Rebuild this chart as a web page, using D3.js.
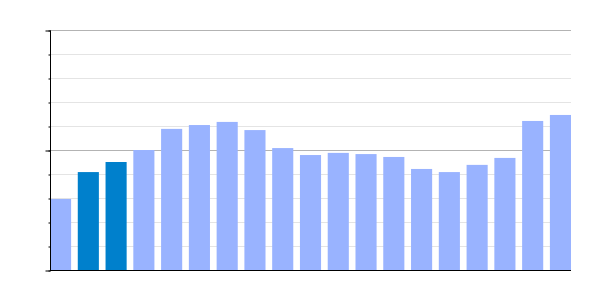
<!DOCTYPE html>
<html>
<head>
<meta charset="utf-8">
<script src="https://cdn.jsdelivr.net/npm/d3@7"></script>
<style>
  body { margin: 0; background: #fff; }
  svg { display: block; font-family: "DejaVu Sans", sans-serif; }
</style>
</head>
<body>
<svg id="chart" width="600" height="300"></svg>
<script>
const categories = ['1', '2', '3', '4', '5', '6', '7', '8', '9', '10',
  '11', '12', '13', '14', '15', '16', '17', '18', '19']
const values = [29.6, 40.8, 45, 50, 58.8, 60.4, 61.7, 58.3, 50.8, 47.9,
  48.8, 48.3, 47.1, 42.1, 40.8, 43.8, 46.7, 62.1, 64.6]
const highlighted = ['2', '3']
const minorTicks = [0, 10, 20, 30, 40, 50, 60, 70, 80, 90, 100]
const majorTicks = [0, 50, 100]

const svg = d3.select('#chart')
const margin = { top: 30, right: 29, bottom: 30, left: 50 }
const w = +svg.attr('width') - margin.left - margin.right
const h = +svg.attr('height') - margin.top - margin.bottom

const g = svg.append('g')
  .attr('transform', `translate(${margin.left},${margin.top})`)

const x = d3.scaleBand()
  .domain(categories)
  .range([0, w])
  .paddingInner(0.24)
  .paddingOuter(0)

const y = d3.scaleLinear()
  .domain([0, 100])
  .range([h + 0.5, 0.5])

// gridlines
g.append('g')
  .selectAll('line')
  .data(minorTicks.filter(d => d > 0))
  .join('line')
  .attr('x1', 0)
  .attr('x2', w)
  .attr('y1', d => y(d))
  .attr('y2', d => y(d))
  .attr('stroke', d => majorTicks.includes(d) ? '#b3b3b3' : '#e4e4e4')
  .attr('stroke-width', 1)

// bars
g.append('g')
  .selectAll('rect')
  .data(categories)
  .join('rect')
  .attr('x', d => x(d))
  .attr('width', x.bandwidth())
  .attr('y', (d, i) => y(values[i]) - 0.5)
  .attr('height', (d, i) => y(0) - y(values[i]))
  .attr('fill', d => highlighted.includes(d) ? '#0080cc' : '#99b3ff')

// y axis: minor and major ticks
const yMinor = d3.axisLeft(y).tickValues(minorTicks).tickSize(2).tickFormat('')
const yMajor = d3.axisLeft(y).tickValues(majorTicks).tickSize(5).tickFormat('')

g.append('g')
  .attr('transform', 'translate(0.5,0)')
  .call(yMinor)
  .call(a => a.select('.domain').remove())
g.append('g')
  .attr('transform', 'translate(0.5,0)')
  .call(yMajor)
  .call(a => a.select('.domain').attr('d', `M0,${y(100)}V${y(0)}`))

// x axis line
const xAxis = d3.axisBottom(x).tickSize(0).tickFormat('')
g.append('g')
  .attr('transform', `translate(0,${y(0)})`)
  .call(xAxis)
  .call(a => a.select('.domain').attr('d', `M0,0H${w}`))

svg.selectAll('.domain').attr('stroke', '#000')
svg.selectAll('.tick line').attr('stroke', '#000')
</script>
</body>
</html>
